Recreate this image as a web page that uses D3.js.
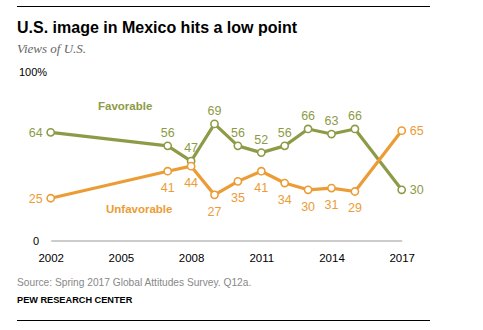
<!DOCTYPE html>
<html>
<head>
<meta charset="utf-8">
<script src="https://cdn.jsdelivr.net/npm/d3@7"></script>
<style>
  body { margin: 0; background: #fff; }
  text { font-family: "Liberation Sans", Arial, sans-serif; }
</style>
</head>
<body>
<svg width="483" height="330"></svg>
<script>
var years = [2002, 2007, 2008, 2009, 2010, 2011, 2012, 2013, 2014, 2015, 2017];
var favorable = [64, 56, 47, 69, 56, 52, 56, 66, 63, 66, 30];
var unfavorable = [25, 41, 44, 27, 35, 41, 34, 30, 31, 29, 65];
var tickYears = [2002, 2005, 2008, 2011, 2014, 2017];

var green = '#8d9b47';
var orange = '#ec9c35';

var svg = d3.select('svg');

var scaleX = d3.scaleLinear().domain([2002, 2017]).range([50.7, 401.7]);
var scaleY = d3.scaleLinear().domain([0, 100]).range([240.5, 71.5]);

// rules top and bottom
svg.append('line').attr('x1', 17).attr('x2', 430).attr('y1', 6.5).attr('y2', 6.5)
    .attr('stroke', '#000').attr('stroke-width', 1);
svg.append('line').attr('x1', 17).attr('x2', 430).attr('y1', 320.5).attr('y2', 320.5)
    .attr('stroke', '#000').attr('stroke-width', 1);

svg.append('text')
    .text('U.S. image in Mexico hits a low point')
    .attr('x', 17).attr('y', 33)
    .attr('font-size', '16px').attr('font-weight', 'bold').attr('fill', '#000');

svg.append('text')
    .text('Views of U.S.')
    .attr('x', 17).attr('y', 53)
    .style('font-family', '"Liberation Serif", "DejaVu Serif", serif')
    .attr('font-size', '13px').attr('font-style', 'italic').attr('fill', '#666');

svg.append('text')
    .text('100%')
    .attr('x', 19).attr('y', scaleY(100) + 4)
    .attr('font-size', '11px').attr('fill', '#000');

svg.append('text')
    .text('0')
    .attr('x', 39).attr('y', scaleY(0) + 4)
    .attr('text-anchor', 'end')
    .attr('font-size', '11px').attr('fill', '#000');

// x axis
var axis = svg.append('g')
    .attr('transform', 'translate(0,' + scaleY(0) + ')')
    .call(d3.axisBottom(scaleX).tickValues(tickYears).tickFormat(d3.format('d')).tickSize(0).tickPadding(13));
axis.select('.domain').attr('stroke', '#999').attr('stroke-width', 1.2);
axis.selectAll('text').attr('font-size', '11.5px').attr('fill', '#000')
    .style('font-family', '"Liberation Sans", Arial, sans-serif');

var line = d3.line()
    .x(function(d, i){ return scaleX(years[i]); })
    .y(function(d){ return scaleY(d); });

function drawSeries(values, color, above){
    svg.append('path')
        .datum(values)
        .attr('d', line)
        .attr('fill', 'none')
        .attr('stroke', color)
        .attr('stroke-width', 3.2)
        .attr('stroke-linejoin', 'round');

    svg.selectAll(null)
        .data(values)
        .enter()
        .append('circle')
        .attr('cx', function(d, i){ return scaleX(years[i]); })
        .attr('cy', function(d){ return scaleY(d); })
        .attr('r', 3.6)
        .attr('fill', '#fff')
        .attr('stroke', color)
        .attr('stroke-width', 1.6);

    var last = values.length - 1;
    svg.selectAll(null)
        .data(values)
        .enter()
        .append('text')
        .text(function(d){ return d; })
        .attr('x', function(d, i){
            if (i == 0) return scaleX(years[i]) - 8;
            if (i == last) return scaleX(years[i]) + 8;
            return scaleX(years[i]);
        })
        .attr('y', function(d, i){
            if (i == 0 || i == last) return scaleY(d) + 4.5;
            return above ? scaleY(d) - 9 : scaleY(d) + 21;
        })
        .attr('text-anchor', function(d, i){
            if (i == 0) return 'end';
            if (i == last) return 'start';
            return 'middle';
        })
        .attr('font-size', '12.5px')
        .attr('fill', color);
}

drawSeries(favorable, green, true);
drawSeries(unfavorable, orange, false);

svg.append('text')
    .text('Favorable')
    .attr('x', 98).attr('y', 110)
    .attr('font-size', '11.5px').attr('font-weight', 'bold').attr('fill', green);

svg.append('text')
    .text('Unfavorable')
    .attr('x', 106).attr('y', 213)
    .attr('font-size', '11.5px').attr('font-weight', 'bold').attr('fill', orange);

svg.append('text')
    .text('Source: Spring 2017 Global Attitudes Survey. Q12a.')
    .attr('x', 17).attr('y', 286)
    .attr('font-size', '10.2px').attr('fill', '#888');

svg.append('text')
    .text('PEW RESEARCH CENTER')
    .attr('x', 17).attr('y', 303)
    .attr('font-size', '9.2px').attr('font-weight', 'bold').attr('fill', '#000');
</script>
</body>
</html>
